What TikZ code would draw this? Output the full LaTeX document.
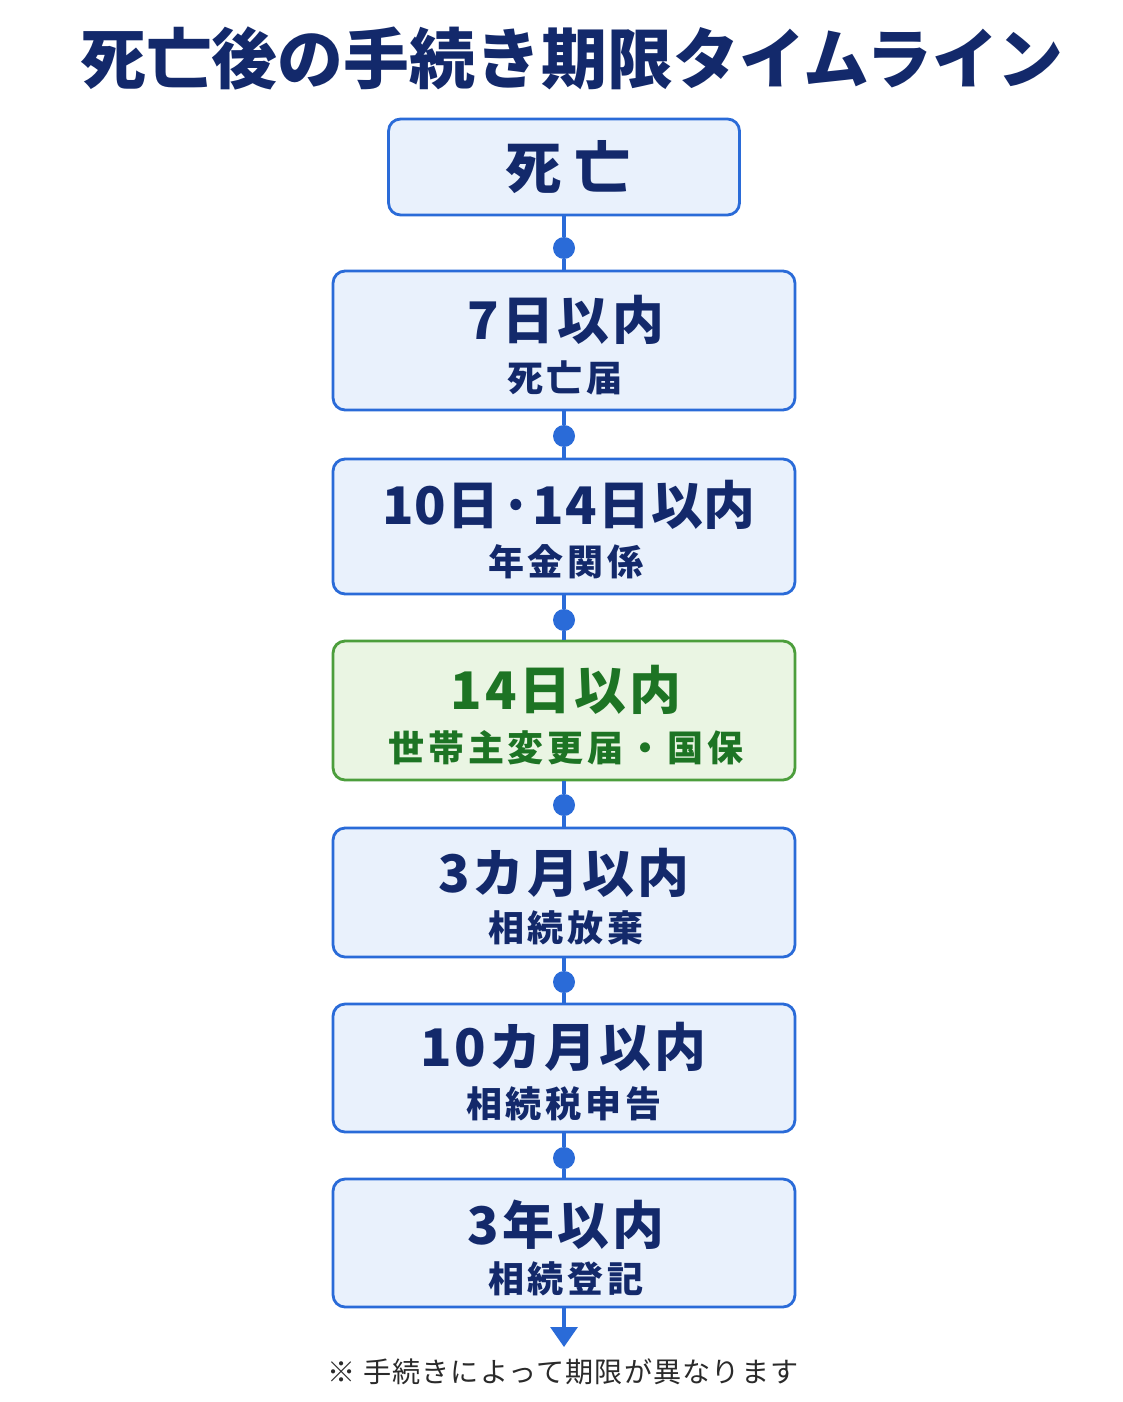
\documentclass[tikz,border=0pt]{standalone}
\usepackage{fontspec}
\usepackage{tikz}
\usetikzlibrary{arrows.meta}
\newfontfamily\jp{Noto Sans CJK JP}
\definecolor{navy}{HTML}{13296B}
\definecolor{lineblue}{HTML}{2A6BD8}
\definecolor{boxblue}{HTML}{E9F1FC}
\definecolor{boxgreen}{HTML}{EAF5E3}
\definecolor{linegreen}{HTML}{4C9E3C}
\definecolor{textgreen}{HTML}{1D7424}
\definecolor{notegray}{HTML}{2A2A2A}

\begin{document}
\begin{tikzpicture}[x=0.02cm, y=-0.02cm,
        box/.style={draw=lineblue, fill=boxblue, line width=1.6pt, rounded corners=0.24cm, minimum width=9.24cm},
        greenbox/.style={box, draw=linegreen, fill=boxgreen},
        limit/.style={font=\jp\bfseries\fontsize{29.5}{31}\selectfont\addfontfeatures{LetterSpace=6}, text=navy},
        task/.style={font=\jp\bfseries\fontsize{20.5}{22}\selectfont\addfontfeatures{LetterSpace=11}, text=navy},
        dot/.style={circle, fill=lineblue, inner sep=0pt, minimum size=0.44cm},
        link/.style={draw=lineblue, line width=1.8pt}]
        \useasboundingbox[fill=white] (0,0) rectangle (1122,1402);

        \node[font=\jp\bfseries\fontsize{37.5}{40}\selectfont, text=navy] (title) at (572,58) {死亡後の手続き期限タイムライン};

        % boxes
        \node[box, minimum width=7.02cm, minimum height=1.92cm] (death) at (564,167) {};
        \node[box, minimum height=2.78cm] (day7) at (564,340.5) {};
        \node[box, minimum height=2.70cm] (day10) at (564,526.5) {};
        \node[greenbox, minimum height=2.78cm] (day14) at (564,710.5) {};
        \node[box, minimum height=2.58cm] (month3) at (564,892.5) {};
        \node[box, minimum height=2.56cm] (month10) at (564,1068) {};
        \node[box, minimum height=2.56cm] (year3) at (564,1243) {};

        % texts
        \node[limit, font=\jp\bfseries\fontsize{32}{34}\selectfont\addfontfeatures{LetterSpace=22}] (deathtxt) at (568,167) {死亡};
        \node[limit] (day7a) at (566,320) {7日以内};
        \node[task] (day7b) at (565,378) {死亡届};
        \node[limit, font=\jp\bfseries\fontsize{29.5}{31}\selectfont\addfontfeatures{LetterSpace=2}] (day10a) at (569,505) {10日·14日以内};
        \node[task] (day10b) at (566,562) {年金関係};
        \node[limit, text=textgreen] (day14a) at (566,690) {14日以内};
        \node[task, text=textgreen] (day14b) at (566,748) {世帯主変更届・国保};
        \node[limit] (month3a) at (564,873) {3カ月以内};
        \node[task] (month3b) at (566,928) {相続放棄};
        \node[limit] (month10a) at (563,1047) {10カ月以内};
        \node[task] (month10b) at (564,1104) {相続税申告};
        \node[limit] (year3a) at (566,1225) {3年以内};
        \node[task] (year3b) at (566,1279) {相続登記};

        % connectors
        \node[dot] (d1) at (564,248) {};
        \node[dot] (d2) at (564,436) {};
        \node[dot] (d3) at (564,620) {};
        \node[dot] (d4) at (564,805) {};
        \node[dot] (d5) at (564,982) {};
        \node[dot] (d6) at (564,1158) {};
        \draw[link] (death) -- (d1) -- (day7);
        \draw[link] (day7) -- (d2) -- (day10);
        \draw[link] (day10) -- (d3) -- (day14);
        \draw[link] (day14) -- (d4) -- (month3);
        \draw[link] (month3) -- (d5) -- (month10);
        \draw[link] (month10) -- (d6) -- (year3);
        \coordinate (end) at (564,1347);
        \draw[link, -{Triangle[width=0.54cm, length=0.4cm]}, lineblue] (year3) -- (end);

        \node[font=\jp\fontsize{16}{18}\selectfont\addfontfeatures{LetterSpace=4}, text=notegray] (note) at (563,1372) {※ 手続きによって期限が異なります};
\end{tikzpicture}
\end{document}
